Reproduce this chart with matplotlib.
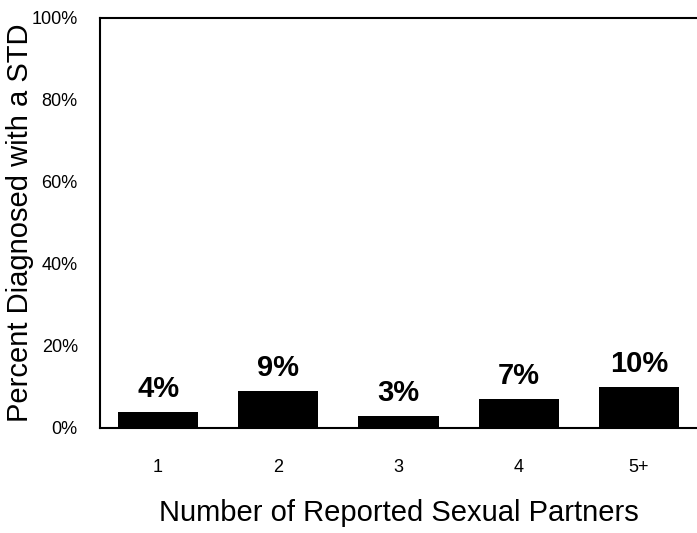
import matplotlib
matplotlib.use("Agg")
import matplotlib.pyplot as plt
from matplotlib.ticker import PercentFormatter

plt.rcParams['font.family'] = ['Liberation Sans', 'DejaVu Sans']

# Share of respondents diagnosed with an STD by number of reported partners
partners = ["1", "2", "3", "4", "5+"]
pct_diagnosed = [4, 9, 3, 7, 10]
y_ticks = [0, 20, 40, 60, 80, 100]

fig = plt.figure(figsize=(6.97, 5.33), dpi=100)
W, H = 697, 533
ax = fig.add_axes([100 / W, (H - 428) / H, 597 / W, 410 / H])

x = list(range(len(partners)))
bars = ax.bar(x, pct_diagnosed, width=0.667, color="black")

for xi, v in zip(x, pct_diagnosed):
    ax.annotate(f"{v}%", xy=(xi, v), xytext=(0, 10.8), textcoords="offset points",
                ha="center", va="baseline", fontsize=21, fontweight="bold")

ax.set_xlim(-0.483, len(partners) - 1 + 0.483)
ax.set_ylim(0, 100)
ax.set_xticks(x)
ax.set_xticklabels(partners)
ax.set_yticks(y_ticks)
ax.yaxis.set_major_formatter(PercentFormatter(decimals=0))
ax.tick_params(axis="both", length=0, labelsize=13)
ax.tick_params(axis="y", pad=16)
ax.tick_params(axis="x", pad=22)

for side in ("left", "bottom", "top"):
    ax.spines[side].set_linewidth(1.5)
ax.spines["right"].set_visible(False)

ax.set_xlabel("Number of Reported Sexual Partners", fontsize=21)
ax.set_ylabel("Percent Diagnosed with a STD", fontsize=21)
ax.xaxis.set_label_coords(0.5, -0.173)
ax.yaxis.set_label_coords(-0.11, 0.5)

fig.savefig("out.png", dpi=100)
